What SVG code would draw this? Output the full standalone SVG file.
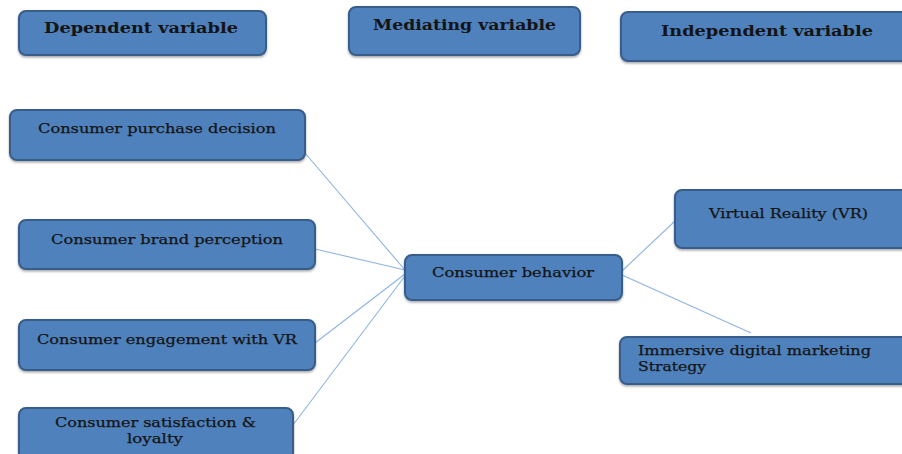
<svg xmlns="http://www.w3.org/2000/svg" width="902" height="454" viewBox="0 0 902 454">
<defs>
<filter id="sh" x="-5%" y="-10%" width="110%" height="130%">
<feDropShadow dx="0" dy="1.5" stdDeviation="1" flood-color="#000" flood-opacity="0.35"/>
</filter>
</defs>
<style>
.box{fill:#4F81BD;stroke:#385D8A;stroke-width:2;filter:url(#sh)}
.t{font-family:"DejaVu Serif","Liberation Serif",serif;font-size:13.5px;fill:#141414;stroke:#141414;stroke-width:0.25}
.h{font-family:"DejaVu Serif","Liberation Serif",serif;font-size:15px;font-weight:bold;fill:#141414}
.c{stroke:#8EB4E3;stroke-width:1.1;fill:none}
</style>
<rect width="902" height="454" fill="#fff"/>
<g id="connectors">
<line class="c" x1="305" y1="153" x2="405" y2="270"/>
<line class="c" x1="315" y1="249" x2="405" y2="270"/>
<line class="c" x1="315" y1="343" x2="405" y2="274"/>
<line class="c" x1="293" y1="425" x2="405" y2="276"/>
<line class="c" x1="622" y1="271" x2="675" y2="221"/>
<line class="c" x1="622" y1="275" x2="751" y2="333"/>
</g>
<g id="dep">
<rect class="box" x="19" y="11" width="247" height="44" rx="7"/>
<text class="h" x="44" y="33" textLength="194" lengthAdjust="spacingAndGlyphs">Dependent variable</text>
</g>
<g id="med">
<rect class="box" x="349" y="7" width="231" height="48" rx="7"/>
<text class="h" x="373" y="30" textLength="183" lengthAdjust="spacingAndGlyphs">Mediating variable</text>
</g>
<g id="ind">
<rect class="box" x="621" y="12" width="290" height="49" rx="7"/>
<text class="h" x="661" y="36" textLength="212" lengthAdjust="spacingAndGlyphs">Independent variable</text>
</g>
<g id="purchase">
<rect class="box" x="10" y="110" width="295" height="50" rx="7"/>
<text class="t" x="38" y="133" textLength="238" lengthAdjust="spacingAndGlyphs">Consumer purchase decision</text>
</g>
<g id="brand">
<rect class="box" x="19" y="220" width="296" height="49" rx="7"/>
<text class="t" x="51" y="244" textLength="232" lengthAdjust="spacingAndGlyphs">Consumer brand perception</text>
</g>
<g id="engagement">
<rect class="box" x="19" y="320" width="296" height="50" rx="7"/>
<text class="t" x="37" y="344" textLength="260" lengthAdjust="spacingAndGlyphs">Consumer engagement with VR</text>
</g>
<g id="satisfaction">
<rect class="box" x="19" y="408" width="274" height="52" rx="7"/>
<text class="t" x="55" y="427" textLength="201" lengthAdjust="spacingAndGlyphs">Consumer satisfaction &amp;</text>
<text class="t" x="127" y="443" textLength="56" lengthAdjust="spacingAndGlyphs">loyalty</text>
</g>
<g id="behavior">
<rect class="box" x="405" y="255" width="217" height="45" rx="7"/>
<text class="t" x="432" y="277" textLength="162" lengthAdjust="spacingAndGlyphs">Consumer behavior</text>
</g>
<g id="vr">
<rect class="box" x="675" y="190" width="240" height="58" rx="7"/>
<text class="t" x="709" y="218" textLength="159" lengthAdjust="spacingAndGlyphs">Virtual Reality (VR)</text>
</g>
<g id="immersive">
<rect class="box" x="620" y="337" width="292" height="47" rx="7"/>
<text class="t" x="638" y="355" textLength="233" lengthAdjust="spacingAndGlyphs">Immersive digital marketing</text>
<text class="t" x="638" y="371" textLength="68" lengthAdjust="spacingAndGlyphs">Strategy</text>
</g>
</svg>
